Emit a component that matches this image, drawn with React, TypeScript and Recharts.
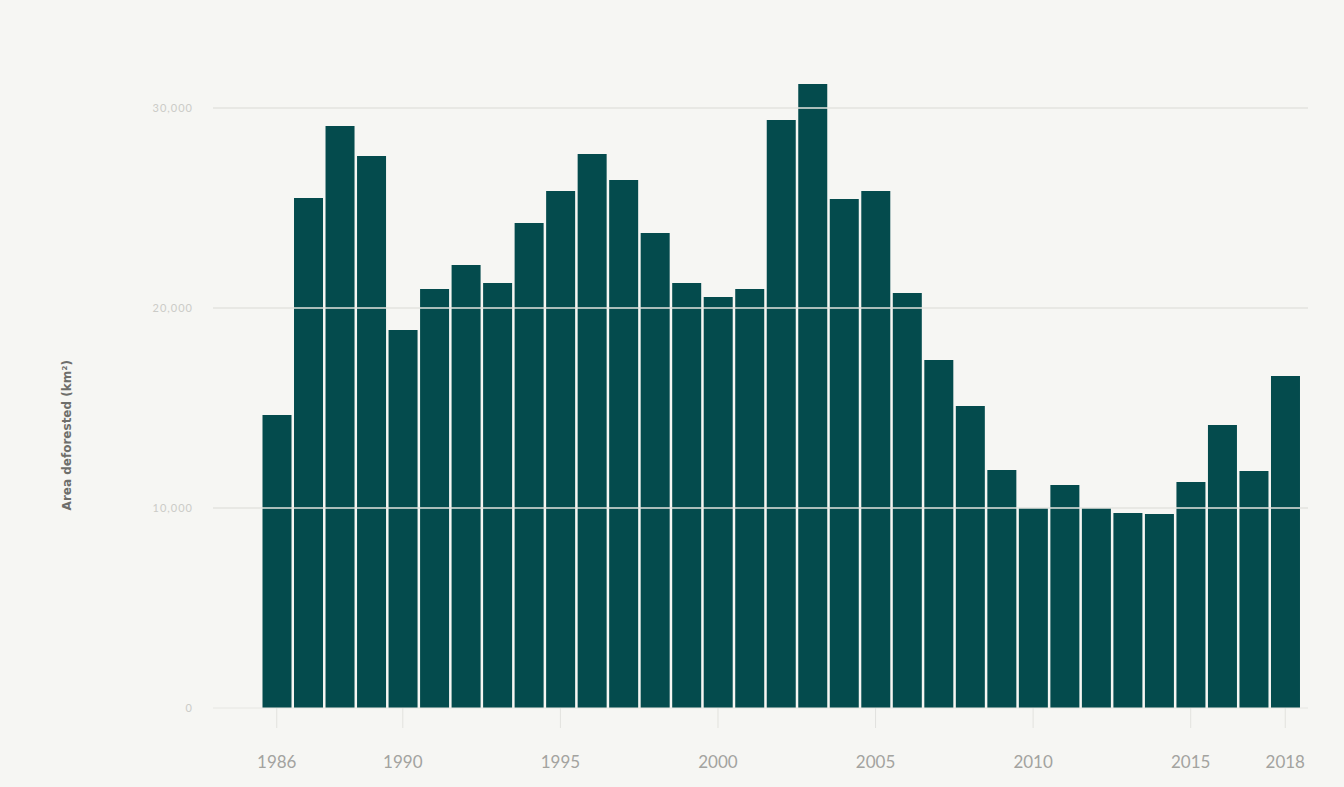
import { BarChart, Bar, XAxis, YAxis, ReferenceLine, Label } from 'recharts'

const years = [
  '1986', '1987', '1988', '1989', '1990', '1991', '1992', '1993', '1994', '1995',
  '1996', '1997', '1998', '1999', '2000', '2001', '2002', '2003', '2004', '2005',
  '2006', '2007', '2008', '2009', '2010', '2011', '2012', '2013', '2014', '2015',
  '2016', '2017', '2018'
]

const deforested = [
  14650, 25500, 29100, 27600, 18900, 20950, 22150, 21250, 24250, 25850,
  27700, 26400, 23750, 21250, 20550, 20950, 29400, 31200, 25450, 25850,
  20750, 17400, 15100, 11900, 10000, 11150, 10000, 9750, 9700, 11300,
  14150, 11850, 16600
]

const labelYears = ['1986', '1990', '1995', '2000', '2005', '2010', '2015', '2018']
const yTicks = [0, 10000, 20000, 30000]
const gridValues = [10000, 20000, 30000]

const data = years.map((year, i) => ({ year, area: deforested[i] }))

const YearTick = (props: any) => {
  const { x, y, payload } = props
  if (!labelYears.includes(payload.value)) return null
  return (
    <g>
      <line x1={x} x2={x} y1={y - 8} y2={y + 12} stroke="#e2e2de" strokeWidth={1} />
      <text
        x={x}
        y={y + 52}
        textAnchor="middle"
        fill="#a3a39f"
        fontSize={17}
        fontFamily="Lato, sans-serif"
      >
        {payload.value}
      </text>
    </g>
  )
}

export default function App() {
  return (
    <div style={{ position: 'absolute', left: 0, top: 0, width: 1344, height: 787, background: '#f6f6f3' }}>
      <BarChart
        width={1344}
        height={787}
        data={data}
        margin={{ top: 68, right: 36, bottom: 29, left: 73 }}
        barCategoryGap={1.5}
      >
        <XAxis
          dataKey="year"
          interval={0}
          tick={<YearTick />}
          tickLine={false}
          axisLine={false}
          height={50}
          padding={{ left: 48, right: 7 }}
        />
        <YAxis
          domain={[0, 32000]}
          ticks={yTicks}
          width={140}
          tickSize={0}
          tickMargin={20}
          tickLine={false}
          axisLine={false}
          tick={{ fill: '#cbcbc7', fontSize: 11, fontFamily: 'Lato, sans-serif', letterSpacing: 1 }}
          tickFormatter={(v: number) => v.toLocaleString('en-US')}
        >
          <Label
            value="Area deforested (km²)"
            angle={-90}
            position="left"
            offset={6}
            dy={-28}
            fill="#6e6e6b"
            fontSize={12}
            fontWeight="bold"
            fontFamily="DejaVu Sans, sans-serif"
          />
        </YAxis>
        <ReferenceLine y={0} stroke="#e6e6e2" strokeWidth={1} />
        <Bar dataKey="area" fill="#044b4d" isAnimationActive={false} />
        {gridValues.map((v) => (
          <ReferenceLine key={v} y={v} stroke="#e3e3df" strokeWidth={1.5} />
        ))}
      </BarChart>
    </div>
  )
}
